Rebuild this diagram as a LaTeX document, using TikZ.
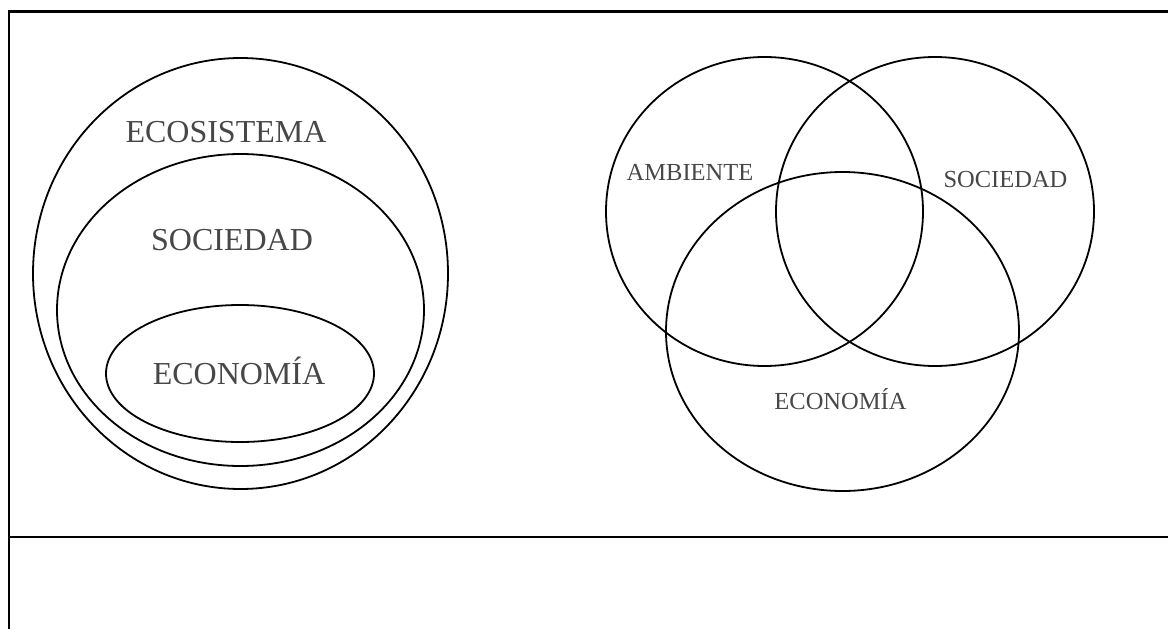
\documentclass[tikz,border=0pt]{standalone}
\usepackage{fontspec}
\setmainfont{Liberation Serif}
\begin{document}
\begin{tikzpicture}[x=1pt,y=-1pt,
  ring/.style={line width=1.8pt},
  biglabel/.style={text=black!72, font=\fontsize{32}{32}\selectfont, inner sep=0pt, anchor=base},
  smalllabel/.style={text=black!72, font=\fontsize{24.5}{24.5}\selectfont, inner sep=0pt, anchor=base}]
  \useasboundingbox (0,0) rectangle (1168,629);

  % frame lines
  \draw[line width=2.4pt] (9,629) -- (9,11);
  \draw[line width=3pt] (7.8,11) -- (1168,11);
  \draw[line width=2pt] (9,537) -- (1168,537);

  % nested model
  \draw[ring] (240.5,273.5) ellipse [x radius=207.5, y radius=215.5];
  \draw[ring] (240.5,310) ellipse [x radius=183.5, y radius=156];
  \draw[ring] (240,373.5) ellipse [x radius=134, y radius=68.5];
  \node[biglabel] (eco) at (226,142.5) {ECOSISTEMA};
  \node[biglabel] (soc) at (232,250) {SOCIEDAD};
  \node[biglabel] (econ) at (239,384) {ECONOMÍA};

  % three overlapping circles
  \draw[ring] (764.5,211.5) ellipse [x radius=158.5, y radius=154.5];
  \draw[ring] (935,211.5) ellipse [x radius=159, y radius=154.5];
  \draw[ring] (842.5,331.5) ellipse [x radius=176.5, y radius=159.5];
  \node[smalllabel] (amb) at (690,180) {AMBIENTE};
  \node[smalllabel] (soc2) at (1005.5,187) {SOCIEDAD};
  \node[smalllabel] (econ2) at (840.5,409) {ECONOMÍA};
\end{tikzpicture}
\end{document}
